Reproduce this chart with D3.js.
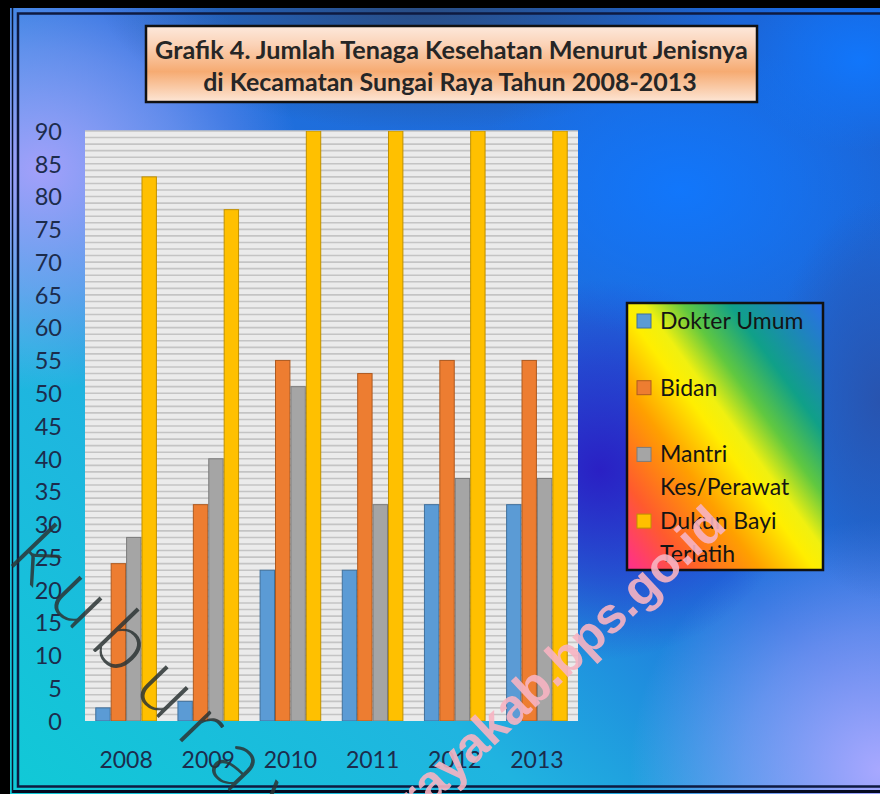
<!DOCTYPE html>
<html>
<head>
<meta charset="utf-8">
<script src="https://cdn.jsdelivr.net/npm/d3@7"></script>
<style>
  html, body { margin: 0; padding: 0; background: #000; }
  svg { display: block; }
</style>
</head>
<body>
<script>
// ---- data ----
const years = ["2008", "2009", "2010", "2011", "2012", "2013"];
const seriesNames = ["Dokter Umum", "Bidan", "Mantri Kes/Perawat", "Dukun Bayi Terlatih"];
const legendLines = [["Dokter Umum"], ["Bidan"], ["Mantri", "Kes/Perawat"], ["Dukun Bayi", "Terlatih"]];
const dokterUmum = [2, 3, 23, 23, 33, 33];
const bidan = [24, 33, 55, 53, 55, 55];
const mantriKes = [28, 40, 51, 33, 37, 37];
const dukunBayi = [83, 78, 90, 90, 90, 90];
const yTicks = [0, 5, 10, 15, 20, 25, 30, 35, 40, 45, 50, 55, 60, 65, 70, 75, 80, 85, 90];
const titleLines = ["Grafik 4. Jumlah Tenaga Kesehatan Menurut Jenisnya", "di Kecamatan Sungai Raya Tahun 2008-2013"];
const seriesColors = ["#5b9bd5", "#ed7d31", "#a5a5a5", "#ffc000"];
const seriesStroke = ["#41719c", "#ae5a21", "#7c7c7c", "#bf9000"];

const seriesValues = [dokterUmum, bidan, mantriKes, dukunBayi];

const W = 880, H = 794;
const plot = { left: 85, right: 578, top: 131, bottom: 721 };

const svg = d3.select("body").append("svg").attr("width", W).attr("height", H);
const defs = svg.append("defs");

// ---- background gradients ----
const base = defs.append("linearGradient").attr("id", "bgBase")
  .attr("x1", 0).attr("y1", 1).attr("x2", 1).attr("y2", 0);
[[0, "#10cad6"], [0.3, "#20b4e0"], [0.55, "#1f6fdc"], [1, "#1a64d8"]].forEach(s =>
  base.append("stop").attr("offset", s[0]).attr("stop-color", s[1]));

function radial(id, color, op) {
  const g = defs.append("radialGradient").attr("id", id);
  g.append("stop").attr("offset", 0).attr("stop-color", color).attr("stop-opacity", op);
  g.append("stop").attr("offset", 0.55).attr("stop-color", color).attr("stop-opacity", op * 0.5);
  g.append("stop").attr("offset", 1).attr("stop-color", color).attr("stop-opacity", 0);
}
radial("rgLav1", "#a2a0fa", 1);
radial("rgLav2", "#a8a8ff", 1);
radial("rgIndigo", "#2a20c4", 1);
radial("rgDark", "#2a4a7c", 0.95);
radial("rgBright", "#1078ff", 0.9);
radial("rgDark2", "#2a50a8", 0.85);

svg.append("rect").attr("width", W).attr("height", H).attr("fill", "url(#bgBase)");
const blobs = [
  ["rgLav1", 40, 170, 260, 220],
  ["rgLav2", 880, 770, 250, 250],
  ["rgIndigo", 600, 470, 200, 190],
  ["rgDark", 420, 0, 320, 130],
  ["rgBright", 680, 190, 210, 150],
  ["rgDark2", 880, 400, 110, 200],
  ["rgBright", 860, 60, 120, 90]
];
blobs.forEach(b => svg.append("ellipse").attr("cx", b[1]).attr("cy", b[2]).attr("rx", b[3]).attr("ry", b[4]).attr("fill", `url(#${b[0]})`));

// outer black border and frame lines
svg.append("rect").attr("x", 0).attr("y", 0).attr("width", W).attr("height", 8).attr("fill", "#000");
svg.append("rect").attr("x", 0).attr("y", 0).attr("width", 10).attr("height", H).attr("fill", "#000");
svg.append("rect").attr("x", 18).attr("y", 13.5).attr("width", 900).attr("height", 773)
  .attr("fill", "none").attr("stroke", "#0e1a40").attr("stroke-width", 2.5);
svg.append("line").attr("x1", 12).attr("x2", W).attr("y1", 791.5).attr("y2", 791.5)
  .attr("stroke", "#050a20").attr("stroke-width", 3);
svg.append("line").attr("x1", 12.5).attr("x2", 12.5).attr("y1", 8).attr("y2", 793)
  .attr("stroke", "#0a1430").attr("stroke-width", 1.5);

// ---- scales ----
const y = d3.scaleLinear().domain([0, 90]).range([plot.bottom, plot.top]);
const x0 = d3.scaleBand().domain(years).range([plot.left, plot.right]).paddingInner(0.25).paddingOuter(0.125);
const x1 = d3.scaleBand().domain(d3.range(seriesNames.length)).range([0, x0.bandwidth()]);

// plot area
svg.append("rect").attr("x", plot.left).attr("y", plot.top)
  .attr("width", plot.right - plot.left).attr("height", plot.bottom - plot.top).attr("fill", "#ebebeb");
svg.append("g").selectAll("line").data(d3.range(1, 91)).join("line")
  .attr("x1", plot.left).attr("x2", plot.right)
  .attr("y1", d => y(d)).attr("y2", d => y(d))
  .attr("stroke", "#c4c4c4").attr("stroke-width", 1.6);

defs.append("clipPath").attr("id", "plotClip").append("rect")
  .attr("x", plot.left).attr("y", plot.top).attr("width", plot.right - plot.left).attr("height", plot.bottom - plot.top);

// bars
const barG = svg.append("g").attr("clip-path", "url(#plotClip)");
years.forEach((yr, i) => {
  const g = barG.append("g").attr("transform", `translate(${x0(yr)},0)`);
  g.selectAll("rect").data(seriesValues.map((s, k) => ({ k, v: s[i] }))).join("rect")
    .attr("x", d => x1(d.k) + 0.5)
    .attr("width", x1.bandwidth() - 1)
    .attr("y", d => y(d.v))
    .attr("height", d => y(0) - y(d.v))
    .attr("fill", d => seriesColors[d.k])
    .attr("stroke", d => seriesStroke[d.k])
    .attr("stroke-width", 1);
});

// axes
const fontFam = "Lato, 'Open Sans', 'DejaVu Sans', sans-serif";
const yAxis = d3.axisLeft(y).tickValues(yTicks).tickSize(0).tickPadding(0);
const yg = svg.append("g").attr("transform", "translate(62,0)").call(yAxis);
yg.select(".domain").remove();
yg.selectAll("text").attr("font-family", fontFam).attr("font-size", 23.5).attr("fill", "#1c2c4c").attr("dy", "0.35em");

const xAxis = d3.axisBottom(x0).tickSize(0).tickPadding(0);
const xg = svg.append("g").attr("transform", `translate(0,760)`).call(xAxis);
xg.select(".domain").remove();
xg.selectAll("text").attr("font-family", fontFam).attr("font-size", 23).attr("fill", "#1c2c4c").attr("dy", "0.35em");

// ---- title ----
const tg = defs.append("linearGradient").attr("id", "titleGrad").attr("x1", 0).attr("y1", 0).attr("x2", 0).attr("y2", 1);
[[0, "#fde9dc"], [0.25, "#fbd2b6"], [0.6, "#f6ab72"], [1, "#fde6d6"]].forEach(s =>
  tg.append("stop").attr("offset", s[0]).attr("stop-color", s[1]));
svg.append("rect").attr("x", 146).attr("y", 26).attr("width", 611).attr("height", 76)
  .attr("fill", "url(#titleGrad)").attr("stroke", "#111").attr("stroke-width", 2.5);

function fitText(sel, targetW) {
  const fs = +sel.attr("font-size");
  const w = sel.node().getComputedTextLength();
  sel.attr("font-size", fs * targetW / w);
}
const tl1 = svg.append("text").attr("x", 451.5).attr("y", 49).attr("text-anchor", "middle")
  .attr("dominant-baseline", "central").attr("font-family", fontFam).attr("font-weight", 700)
  .attr("font-size", 20).attr("fill", "#262626").text(titleLines[0]);
fitText(tl1, 593);
const tl2 = svg.append("text").attr("x", 450).attr("y", 81).attr("text-anchor", "middle")
  .attr("dominant-baseline", "central").attr("font-family", fontFam).attr("font-weight", 700)
  .attr("font-size", 20).attr("fill", "#262626").text(titleLines[1]);
fitText(tl2, 494);

// ---- legend ----
const lg = defs.append("linearGradient").attr("id", "legGrad").attr("x1", 0).attr("y1", 1).attr("x2", 1).attr("y2", 0);
[[0, "#ff2d90"], [0.16, "#ff5a2e"], [0.34, "#ffa000"], [0.48, "#ffee00"], [0.54, "#f0f010"], [0.64, "#60c840"], [0.76, "#10a088"], [1, "#2a6ee8"]].forEach(s =>
  lg.append("stop").attr("offset", s[0]).attr("stop-color", s[1]));
svg.append("rect").attr("x", 627).attr("y", 303).attr("width", 196).attr("height", 267)
  .attr("fill", "url(#legGrad)").attr("stroke", "#111").attr("stroke-width", 2.5);
const legItem = svg.append("g").selectAll("g").data(seriesNames).join("g")
  .attr("transform", (d, i) => `translate(637,${321 + i * 66.7})`);
legItem.append("rect").attr("x", 0).attr("y", -7).attr("width", 14).attr("height", 14)
  .attr("fill", (d, i) => seriesColors[i]).attr("stroke", (d, i) => seriesStroke[i]).attr("stroke-width", 1);
legItem.each(function (d, i) {
  const t = d3.select(this).append("text").attr("x", 23).attr("font-family", fontFam)
    .attr("font-size", 23).attr("fill", "#141414");
  legendLines[i].forEach((ln, j) => {
    t.append("tspan").attr("x", 23).attr("y", j * 33).attr("dy", "0.35em").text(ln);
  });
});

// ---- watermarks ----
svg.append("text").attr("transform", "translate(6,560) rotate(46)")
  .attr("font-family", fontFam).attr("font-weight", 300).attr("font-size", 84)
  .attr("letter-spacing", 16).attr("fill", "#2c3434").attr("fill-opacity", 0.85)
  .text("kuburayakab.bps.go.id");
svg.append("text").attr("transform", "translate(728,528) rotate(-43)")
  .attr("text-anchor", "end").attr("font-family", "'Liberation Sans', Arial, sans-serif").attr("font-weight", 700)
  .attr("font-size", 50).attr("fill", "#f7b4c2").attr("fill-opacity", 0.9)
  .text("https://kuburayakab.bps.go.id");
</script>
</body>
</html>
